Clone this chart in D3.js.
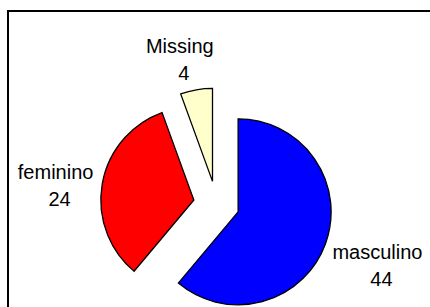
<!DOCTYPE html>
<html>
<head>
<meta charset="utf-8">
<script src="https://cdn.jsdelivr.net/npm/d3@7"></script>
<style>
  body { margin: 0; background: #fff; }
  svg { display: block; }
</style>
</head>
<body>
<script>
const categories = ["masculino", "feminino", "Missing"];
const values = [44, 24, 4];
const colors = ["#0000ff", "#ff0000", "#ffffcc"];

const w = 430, h = 307;
const cx = 216.5, cy = 204;   // centre of the pie before exploding
const R = 93;                 // pie radius
const explode = 23;           // distance each slice is pulled out
const pad = 8;                // gap between slice edge and its label
const labelTurn = [1, -4, -5]; // small angle nudge (degrees) per label, like Excel's placement

const svg = d3.select("body").append("svg").attr("width", w).attr("height", h);

// chart area border (runs off the right and bottom of the picture)
svg.append("rect")
  .attr("x", 8).attr("y", 11)
  .attr("width", w + 20).attr("height", h + 20)
  .attr("fill", "none")
  .attr("stroke", "#000")
  .attr("stroke-width", 2);

const pie = d3.pie().sort(null).value(d => d);
const arcs = pie(values);
const arc = d3.arc().innerRadius(0).outerRadius(R);

const dir = (d, turn) => {
  let a = (d.startAngle + d.endAngle) / 2 + (turn || 0) * Math.PI / 180;
  return [Math.sin(a), -Math.cos(a)];
};

const slices = svg.append("g").attr("id", "slices")
  .selectAll("g")
  .data(arcs)
  .enter().append("g")
  .attr("transform", (d) => {
    let [dx, dy] = dir(d);
    return "translate(" + (cx + dx*explode) + "," + (cy + dy*explode) + ")";
  });

slices.append("path")
  .attr("d", arc)
  .attr("fill", (d, i) => colors[i])
  .attr("stroke", "#000")
  .attr("stroke-width", 1.3)
  .attr("stroke-linejoin", "miter");

const labels = svg.append("g").attr("id", "labels")
  .selectAll("text")
  .data(arcs)
  .enter().append("text")
  .attr("text-anchor", "middle")
  .attr("font-family", "Arial, 'Liberation Sans', sans-serif")
  .attr("font-size", "20px")
  .attr("fill", "#000");

labels.append("tspan")
  .attr("x", 0).attr("y", 0)
  .text((d, i) => categories[i]);

labels.append("tspan")
  .attr("x", 0).attr("dx", 4).attr("y", 27)
  .text((d) => d.value);

// push each label out along the slice's middle until its box clears the slice
labels.each(function(d, i) {
  let b = this.getBBox();
  let [ex, ey] = dir(d);
  let [dx, dy] = dir(d, labelTurn[i]);
  let hw = b.width/2, hh = b.height/2;
  let t = Math.min(Math.abs(dx) > 1e-6 ? hw/Math.abs(dx) : Infinity,
                   Math.abs(dy) > 1e-6 ? hh/Math.abs(dy) : Infinity);
  let dist = R + pad + t;
  let px = cx + ex*explode + dx*dist;
  let py = cy + ey*explode + dy*dist;
  let tx = px - (b.x + hw);
  let ty = py - (b.y + hh);
  d3.select(this).attr("transform", "translate(" + tx + "," + ty + ")");
});
</script>
</body>
</html>
